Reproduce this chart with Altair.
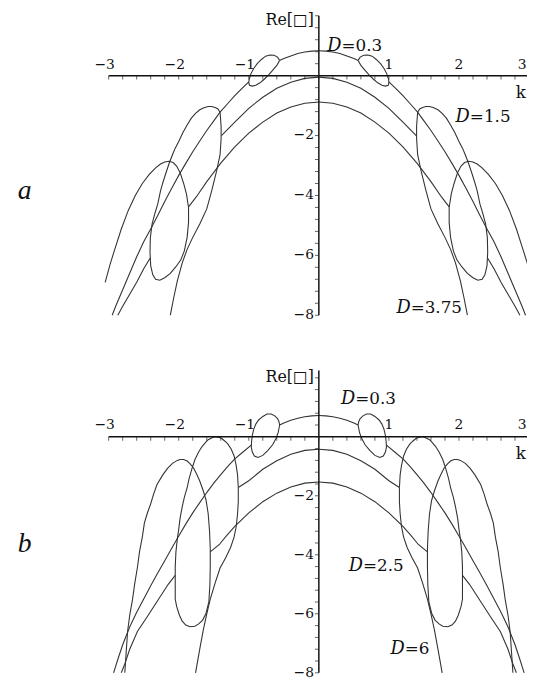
import altair as alt
import pandas as pd

# ======================= values =======================
# Both panels are symmetric in k: each curve is listed for k >= 0 and mirrored.

# ---------------- panel a ----------------
a_top_inner_k = [0.0, 0.1, 0.2, 0.3, 0.4, 0.5, 0.56]
a_top_inner_y = [0.83, 0.82, 0.79, 0.74, 0.66, 0.57, 0.51]

a_loop_k = [0.56, 0.59, 0.64, 0.70, 0.76, 0.82, 0.88, 0.93, 0.97, 0.995, 1.0,
            0.99, 0.95, 0.90, 0.84, 0.78, 0.72, 0.66, 0.60, 0.56]
a_loop_y = [0.51, 0.62, 0.68, 0.69, 0.65, 0.54, 0.40, 0.24, 0.06, -0.12, -0.24,
            -0.32, -0.35, -0.32, -0.24, -0.12, 0.02, 0.18, 0.34, 0.51]

a_top_outer_k = [1.0, 1.1, 1.2, 1.3, 1.41, 1.5, 1.6, 1.7, 1.8, 1.9, 2.0, 2.1,
                 2.2, 2.3, 2.4, 2.5, 2.6, 2.7, 2.8, 2.9, 2.95]
a_top_outer_y = [-0.21, -0.43, -0.67, -0.93, -1.22, -1.51, -1.83, -2.18, -2.54,
                 -2.93, -3.33, -3.76, -4.2, -4.67, -5.12, -5.55, -6.05, -6.6,
                 -7.15, -7.7, -8.0]

a_mid_k = [0.0, 0.2, 0.4, 0.6, 0.8, 1.0, 1.2, 1.39]
a_mid_y = [-0.05, -0.09, -0.22, -0.42, -0.72, -1.09, -1.55, -2.0]

a_low_k = [0.0, 0.2, 0.4, 0.6, 0.8, 1.0, 1.2, 1.4, 1.6, 1.75, 1.86]
a_low_y = [-0.88, -0.92, -1.05, -1.25, -1.55, -1.92, -2.38, -2.92, -3.54, -4.05, -4.38]

a_steep_k = [1.41, 1.395, 1.395, 1.41, 1.46, 1.53, 1.6, 1.7, 1.8, 1.88, 1.95,
             2.02, 2.07, 2.12]
a_steep_y = [-1.22, -1.7, -2.1, -2.64, -3.19, -3.85, -4.45, -4.95, -5.4, -5.8,
             -6.25, -6.85, -7.4, -8.0]

a_branch_k = [1.41, 1.44, 1.48, 1.53, 1.58, 1.64, 1.7, 1.76, 1.82, 1.88, 1.94,
              2.0, 2.05, 2.09, 2.14, 2.19, 2.23, 2.26, 2.3, 2.34, 2.38, 2.405,
              2.41, 2.4, 2.37, 2.33, 2.27, 2.2, 2.12, 2.04, 1.97, 1.92, 1.88,
              1.86, 1.86, 1.89, 1.93, 1.98, 2.03, 2.08, 2.14, 2.2, 2.26, 2.33,
              2.42, 2.52, 2.62, 2.72, 2.82, 2.92, 2.98, 3.05]
a_branch_y = [-1.22, -1.11, -1.06, -1.03, -1.03, -1.07, -1.14, -1.26, -1.42,
              -1.65, -1.9, -2.2, -2.42, -2.64, -2.95, -3.3, -3.6, -3.85, -4.29,
              -4.6, -4.95, -5.4, -5.9, -6.35, -6.65, -6.8, -6.83, -6.75, -6.6,
              -6.38, -6.15, -5.85, -5.4, -4.9, -4.4, -3.95, -3.6, -3.24, -3.02,
              -2.9, -2.86, -2.88, -2.95, -3.08, -3.3, -3.6, -4.0, -4.5, -5.12,
              -5.85, -6.3, -6.9]

a_mid_outer_k = [2.41, 2.5, 2.6, 2.7, 2.8, 2.87]
a_mid_outer_y = [-6.1, -6.45, -6.9, -7.3, -7.7, -8.0]

# ---------------- panel b ----------------
b_top_inner_k = [0.0, 0.1, 0.2, 0.3, 0.4, 0.5, 0.56]
b_top_inner_y = [0.72, 0.71, 0.68, 0.63, 0.56, 0.47, 0.40]

b_loop_k = [0.56, 0.57, 0.59, 0.63, 0.68, 0.74, 0.80, 0.86, 0.90, 0.93, 0.95,
            0.96, 0.965, 0.95, 0.92, 0.87, 0.80, 0.73, 0.66, 0.61, 0.58, 0.56]
b_loop_y = [0.40, 0.52, 0.62, 0.71, 0.77, 0.77, 0.69, 0.57, 0.43, 0.25, 0.05,
            -0.15, -0.35, -0.52, -0.65, -0.70, -0.63, -0.47, -0.27, -0.05, 0.15, 0.40]

b_top_outer_k = [0.965, 1.1, 1.2, 1.3, 1.4, 1.5, 1.6, 1.7, 1.8, 1.9, 2.0, 2.1,
                 2.2, 2.3, 2.4, 2.5, 2.6, 2.7, 2.8, 2.87, 2.93]
b_top_outer_y = [-0.28, -0.55, -0.75, -1.0, -1.28, -1.57, -1.89, -2.23, -2.58,
                 -2.96, -3.36, -3.78, -4.2, -4.62, -5.05, -5.5, -5.95, -6.45,
                 -7.05, -7.55, -8.0]

b_mid_k = [0.0, 0.2, 0.4, 0.6, 0.8, 1.0, 1.15]
b_mid_y = [-0.42, -0.46, -0.59, -0.81, -1.1, -1.49, -1.72]

b_low_k = [0.0, 0.2, 0.4, 0.6, 0.8, 1.0, 1.2, 1.32, 1.42, 1.55]
b_low_y = [-1.53, -1.57, -1.7, -1.91, -2.2, -2.58, -3.04, -3.36, -3.65, -3.9]

b_steep_k = [1.15, 1.15, 1.16, 1.18, 1.21, 1.26, 1.33, 1.41, 1.48, 1.55, 1.6,
             1.65, 1.7, 1.76]
b_steep_y = [-1.72, -2.2, -2.6, -3.05, -3.4, -3.75, -4.1, -4.45, -4.95, -5.5,
             -6.0, -6.55, -7.2, -8.0]

b_branch_k = [1.15, 1.16, 1.18, 1.21, 1.25, 1.3, 1.34, 1.39, 1.44, 1.49, 1.53,
              1.58, 1.62, 1.67, 1.72, 1.77, 1.81, 1.85, 1.88, 1.92, 1.95, 1.98,
              2.0, 2.02, 2.04, 2.05, 2.05, 2.05, 2.03, 1.99, 1.95, 1.9, 1.84,
              1.77, 1.72, 1.66, 1.61, 1.57, 1.555, 1.55, 1.55, 1.56, 1.58, 1.61,
              1.65, 1.7, 1.74, 1.79, 1.84, 1.88, 1.93, 1.98, 2.02, 2.09, 2.16,
              2.23, 2.31, 2.36, 2.4, 2.45, 2.49, 2.52, 2.56, 2.59, 2.63, 2.66,
              2.7, 2.73, 2.75, 2.77]
b_branch_y = [-1.72, -1.3, -0.97, -0.65, -0.42, -0.24, -0.15, -0.05, -0.01, 0.0,
              -0.04, -0.1, -0.2, -0.34, -0.53, -0.78, -1.07, -1.4, -1.72, -2.05,
              -2.37, -2.75, -3.13, -3.46, -3.9, -4.4, -5.0, -5.5, -5.75, -6.05,
              -6.25, -6.38, -6.44, -6.42, -6.35, -6.22, -5.98, -5.6, -5.0, -4.4,
              -3.8, -3.2, -2.6, -2.15, -1.83, -1.5, -1.29, -1.05, -0.91, -0.82,
              -0.77, -0.77, -0.8, -0.9, -1.07, -1.3, -1.62, -1.95, -2.27, -2.6,
              -2.92, -3.4, -3.9, -4.43, -5.0, -5.52, -6.05, -6.6, -7.3, -8.0]

b_mid_outer_k = [2.05, 2.15, 2.3, 2.45, 2.59, 2.7, 2.77, 2.82]
b_mid_outer_y = [-4.7, -5.0, -5.55, -6.1, -6.6, -7.2, -7.7, -8.0]

# ---------------- axes / tick labels ----------------
x_tick_labels = [-3, -2, -1, 1, 2, 3]
x_tick_text = ["\u22123", "\u22122", "\u22121", "1", "2", "3"]
y_tick_labels = [-2, -4, -6, -8]
y_tick_text = ["\u22122", "\u22124", "\u22126", "\u22128"]
x_minor = [round(-3 + 0.2 * i, 1) for i in range(31)]
y_minor = [round(-8 + 0.4 * i, 1) for i in range(26)]

# annotation texts: (k, value) anchors
a_dlab_k = [0.324, 2.155, 1.31]
a_dlab_y = [0.82, -1.55, -7.91]
a_dlab_txt = ["=0.3", "=1.5", "=3.75"]
b_dlab_k = [0.52, 0.63, 1.225]
b_dlab_y = [1.1, -4.55, -7.35]
b_dlab_txt = ["=0.3", "=2.5", "=6"]

# ======================= layout =======================
W = 526
XMIN, XMAX = -4.437, 2.971
LINE = "#333333"
SERIF = "DejaVu Serif"


def strokes_df(strokes):
    rows = []
    for name, ks, ys in strokes:
        for side, sgn in (("r", 1), ("l", -1)):
            for i, (k, v) in enumerate(zip(ks, ys)):
                rows.append({"id": f"{name}_{side}", "k": sgn * k, "v": v, "i": i})
    return pd.DataFrame(rows)


def panel(strokes, ytop, ybot, H, axis_top, dlab, re_pos, k_y, letter, letter_pos, xlab_dy):
    xs = alt.Scale(domain=[XMIN, XMAX], nice=False, zero=False)
    ys = alt.Scale(domain=[ybot, ytop], nice=False, zero=False)

    def X(f):
        return alt.X(f, type="quantitative", scale=xs, axis=None)

    def Y(f):
        return alt.Y(f, type="quantitative", scale=ys, axis=None)

    curves = alt.Chart(strokes_df(strokes)).mark_line(
        color=LINE, strokeWidth=1.1, clip=True
    ).encode(x=X("k"), y=Y("v"), detail="id:N", order="i:Q")

    xaxis = alt.Chart(pd.DataFrame({"a": [-3], "b": [3], "c": [0]})).mark_rule(
        color="#111", strokeWidth=1.5, clip=True
    ).encode(x=X("a"), x2="b", y=Y("c"))
    yaxis = alt.Chart(pd.DataFrame({"a": [0], "b": [-8], "c": [axis_top]})).mark_rule(
        color="#111", strokeWidth=1.5
    ).encode(x=X("a"), y=Y("b"), y2="c")

    xt = alt.Chart(pd.DataFrame({"t": x_minor, "z": 0})).mark_tick(
        orient="vertical", size=4, thickness=1, yOffset=2, color="#222", clip=True
    ).encode(x=X("t"), y=Y("z"))
    yt = alt.Chart(pd.DataFrame({"t": y_minor, "z": 0})).mark_tick(
        orient="horizontal", size=4, thickness=1, xOffset=-2, color="#222"
    ).encode(x=X("z"), y=Y("t"))

    xlab = pd.DataFrame({"t": x_tick_labels, "s": x_tick_text, "z": 0})
    neg = xlab[xlab["t"] < 0]
    pos = xlab[(xlab["t"] > 0) & (xlab["t"] < max(x_tick_labels))]
    edge = xlab[xlab["t"] == max(x_tick_labels)]
    xl_style = dict(font=SERIF, fontSize=14, baseline="alphabetic", dy=xlab_dy, color="#111")
    xl_neg = alt.Chart(neg).mark_text(dx=-4, **xl_style).encode(x=X("t"), y=Y("z"), text="s:N")
    xl_pos = alt.Chart(pos).mark_text(**xl_style).encode(x=X("t"), y=Y("z"), text="s:N")
    xl_edge = alt.Chart(edge).mark_text(dx=-7, **xl_style).encode(x=X("t"), y=Y("z"), text="s:N")

    yl = alt.Chart(pd.DataFrame({"t": y_tick_labels, "s": y_tick_text, "z": 0})).mark_text(
        font=SERIF, fontSize=14, baseline="middle", align="right", dx=-5, color="#111"
    ).encode(x=X("z"), y=Y("t"), text="s:N")

    dk, dy_, dt = dlab
    ddf = pd.DataFrame({"k": dk, "v": dy_, "s": dt, "d": ["D"] * len(dk)})
    d_it = alt.Chart(ddf).mark_text(
        font=SERIF, fontSize=18, fontStyle="italic", align="right",
        baseline="alphabetic", color="#111"
    ).encode(x=X("k"), y=Y("v"), text="d:N")
    d_rest = alt.Chart(ddf).mark_text(
        font=SERIF, fontSize=17, align="left", baseline="alphabetic", color="#111"
    ).encode(x=X("k"), y=Y("v"), text="s:N")

    re_t = alt.Chart(pd.DataFrame({"k": [re_pos[0]], "v": [re_pos[1]], "s": ["Re[\u25a1]"]})).mark_text(
        font=SERIF, fontSize=16, align="right", baseline="alphabetic", color="#111"
    ).encode(x=X("k"), y=Y("v"), text="s:N")
    k_t = alt.Chart(pd.DataFrame({"k": [XMAX], "v": [k_y], "s": ["k"]})).mark_text(
        font=SERIF, fontSize=17, align="right", baseline="alphabetic", color="#111", dx=-1
    ).encode(x=X("k"), y=Y("v"), text="s:N")

    let = alt.Chart(pd.DataFrame({"k": [letter_pos[0]], "v": [letter_pos[1]], "s": [letter]})).mark_text(
        font="Liberation Serif", fontSize=28, fontStyle="italic", align="center",
        baseline="alphabetic", color="#111"
    ).encode(x=X("k"), y=Y("v"), text="s:N")

    return alt.layer(curves, xaxis, yaxis, xt, yt, xl_neg, xl_pos, xl_edge, yl,
                     d_it, d_rest, re_t, k_t, let).properties(width=W, height=H)


strokes_a = [
    ("top_in", a_top_inner_k, a_top_inner_y),
    ("loop", a_loop_k, a_loop_y),
    ("top_out", a_top_outer_k, a_top_outer_y),
    ("mid", a_mid_k, a_mid_y),
    ("low", a_low_k, a_low_y),
    ("steep", a_steep_k, a_steep_y),
    ("branch", a_branch_k, a_branch_y),
    ("mid_out", a_mid_outer_k, a_mid_outer_y),
]
strokes_b = [
    ("top_in", b_top_inner_k, b_top_inner_y),
    ("loop", b_loop_k, b_loop_y),
    ("top_out", b_top_outer_k, b_top_outer_y),
    ("mid", b_mid_k, b_mid_y),
    ("low", b_low_k, b_low_y),
    ("steep", b_steep_k, b_steep_y),
    ("branch", b_branch_k, b_branch_y),
    ("mid_out", b_mid_outer_k, b_mid_outer_y),
]

HA, HB = 330, 342
pa = panel(strokes_a, 2.043, 2.043 - HA / 30.35, HA, 2.0,
           (a_dlab_k, a_dlab_y, a_dlab_txt), (-0.07, 1.68), -0.76,
           "a", (-4.2, -4.12), -7)
pb = panel(strokes_b, 3.278, 3.278 - HB / 29.9, HB, 2.25,
           (b_dlab_k, b_dlab_y, b_dlab_txt), (-0.07, 1.85), -0.76,
           "b", (-4.2, -3.9), -8)

chart = alt.vconcat(pa, pb, spacing=0, bounds="flush").properties(padding=0).configure_view(
    stroke=None
)
chart.save("out.html", embed_options={"renderer": "svg", "actions": False})
